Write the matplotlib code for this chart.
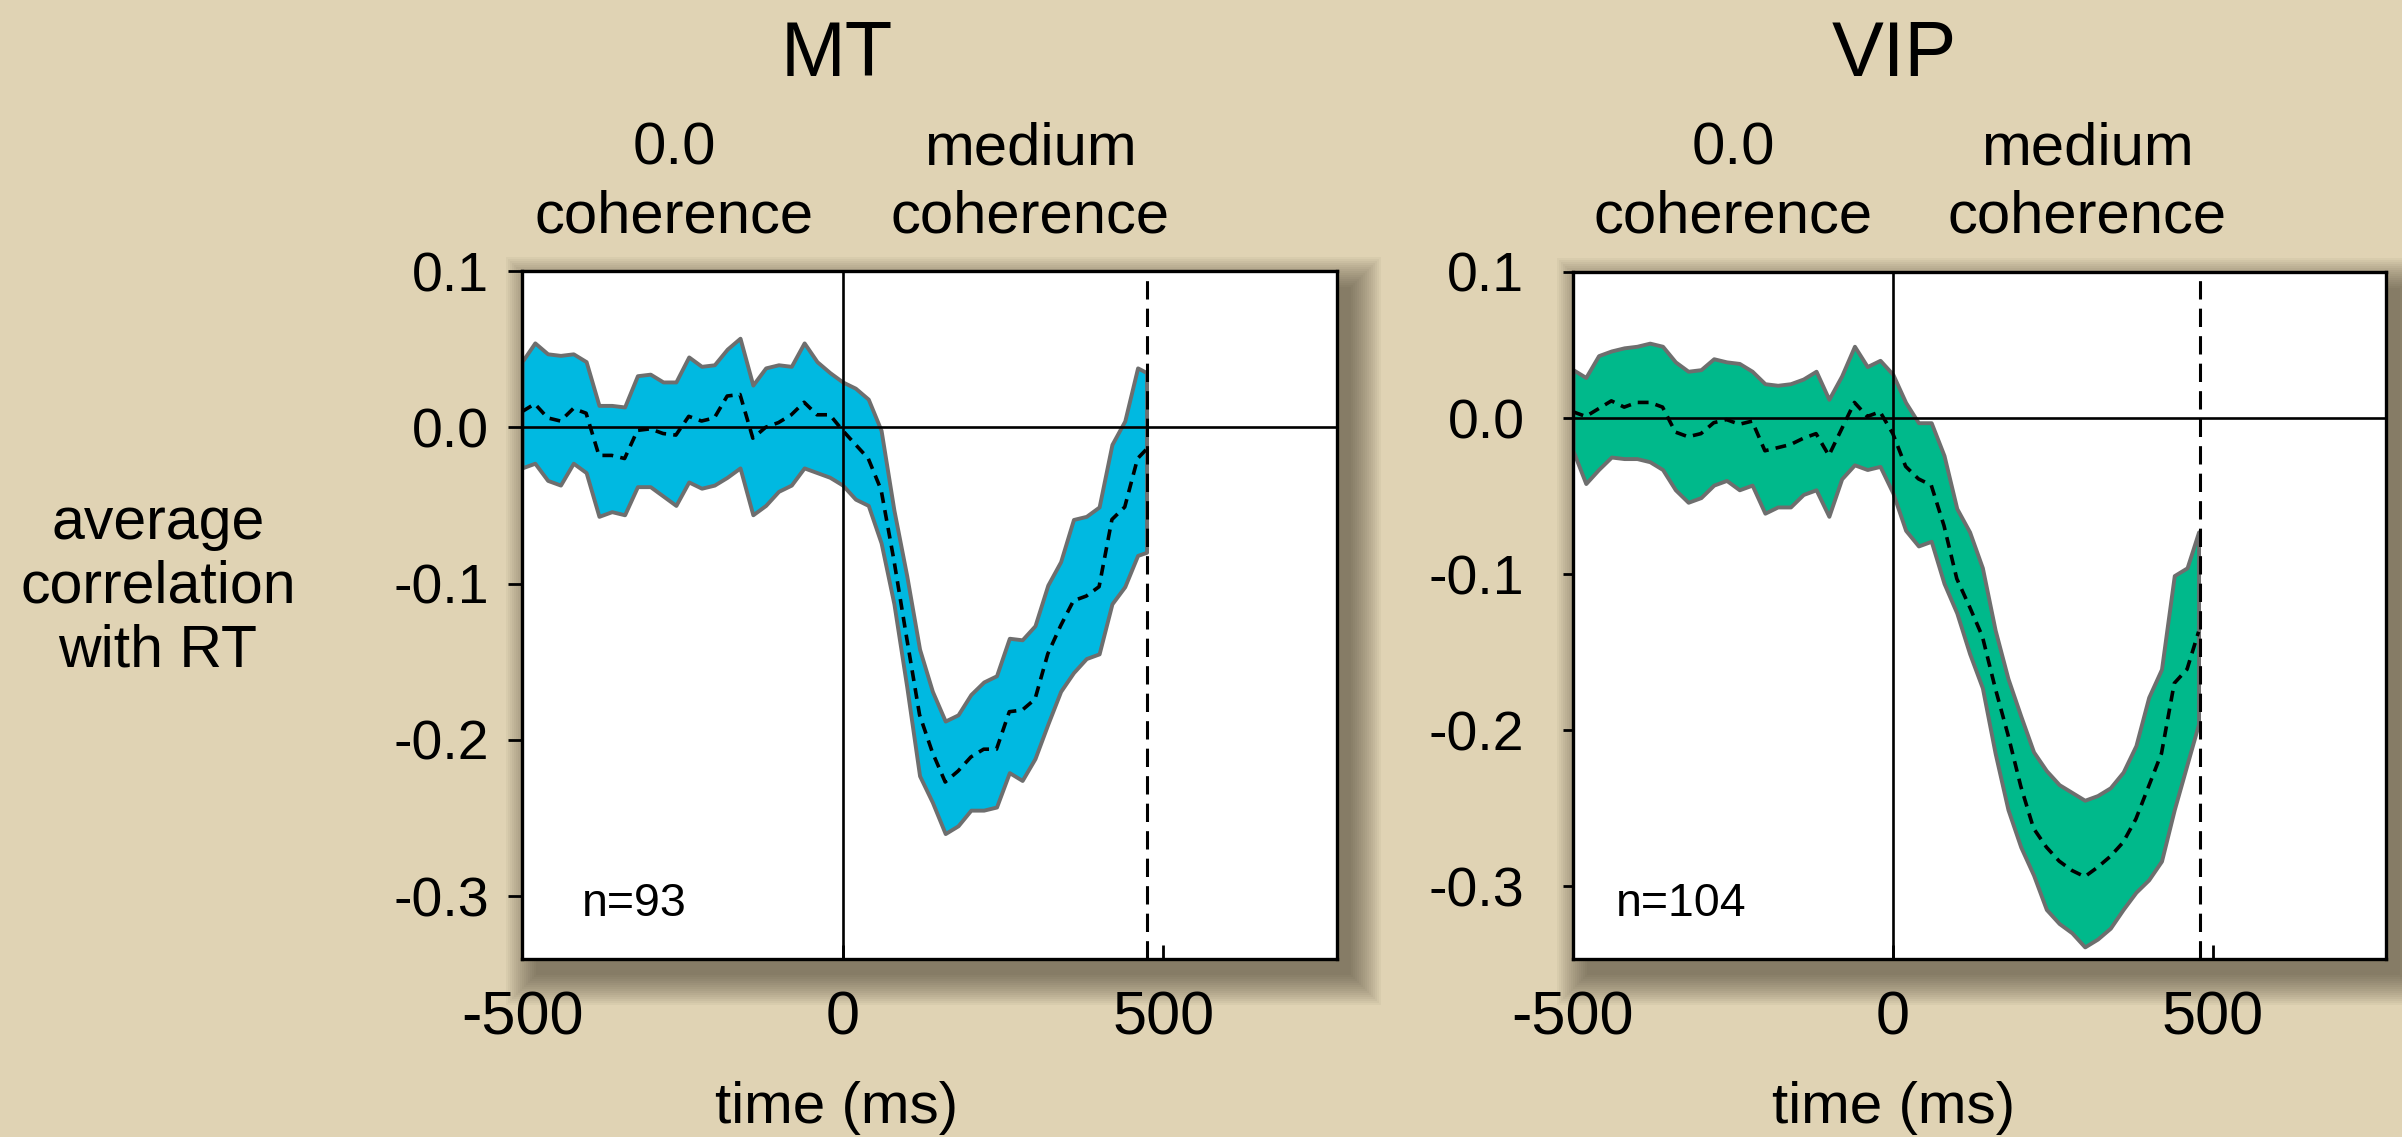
"""MT vs VIP: average correlation of firing with RT, aligned to motion onset."""
import matplotlib
matplotlib.use("Agg")
import matplotlib.pyplot as plt
from matplotlib.patches import Rectangle

plt.rcParams["font.family"] = ["Liberation Sans", "DejaVu Sans"]

BG = "#e0d3b4"
EDGE = "#6e6e6e"
MT_FILL = "#00b9e1"
VIP_FILL = "#00b98b"

# time grid (ms), 20 ms bins, last bin ends at the RT-aligned cut
GRID = list(range(-500, 461, 20))
mt_time = GRID + [474]
vip_time = GRID + [478]

mt_upper = [0.042, 0.054, 0.047, 0.046, 0.047, 0.042, 0.014, 0.014, 0.013, 0.033,
            0.034, 0.029, 0.029, 0.045, 0.039, 0.040, 0.050, 0.057, 0.027, 0.038,
            0.040, 0.039, 0.054, 0.042, 0.035, 0.029, 0.025, 0.018, -0.002, -0.053,
            -0.095, -0.142, -0.169, -0.188, -0.184, -0.171, -0.163, -0.159, -0.135, -0.136,
            -0.127, -0.101, -0.086, -0.059, -0.057, -0.051, -0.011, 0.004, 0.038, 0.035]
mt_lower = [-0.026, -0.023, -0.034, -0.037, -0.023, -0.029, -0.057, -0.054, -0.056, -0.038,
            -0.038, -0.044, -0.050, -0.035, -0.039, -0.037, -0.032, -0.026, -0.056, -0.050,
            -0.041, -0.037, -0.026, -0.029, -0.032, -0.037, -0.046, -0.050, -0.074, -0.113,
            -0.166, -0.223, -0.240, -0.260, -0.255, -0.245, -0.245, -0.243, -0.221, -0.226,
            -0.212, -0.190, -0.169, -0.157, -0.148, -0.145, -0.113, -0.102, -0.082, -0.080]
mt_mean = [0.010, 0.015, 0.006, 0.004, 0.012, 0.009, -0.018, -0.018, -0.020, -0.002,
           -0.001, -0.004, -0.005, 0.007, 0.004, 0.006, 0.020, 0.021, -0.007, 0.000,
           0.003, 0.008, 0.016, 0.008, 0.008, -0.002, -0.011, -0.020, -0.040, -0.085,
           -0.135, -0.184, -0.208, -0.227, -0.220, -0.211, -0.206, -0.206, -0.182, -0.181,
           -0.174, -0.145, -0.127, -0.111, -0.108, -0.102, -0.059, -0.051, -0.020, -0.014]

vip_upper = [0.031, 0.026, 0.040, 0.043, 0.045, 0.046, 0.048, 0.046, 0.036, 0.030,
             0.031, 0.038, 0.036, 0.035, 0.030, 0.022, 0.021, 0.022, 0.025, 0.030,
             0.012, 0.027, 0.046, 0.033, 0.037, 0.028, 0.010, -0.003, -0.003, -0.024,
             -0.058, -0.073, -0.096, -0.136, -0.167, -0.191, -0.214, -0.226, -0.235, -0.240,
             -0.245, -0.242, -0.237, -0.227, -0.210, -0.179, -0.161, -0.101, -0.096, -0.073]
vip_lower = [-0.021, -0.042, -0.033, -0.025, -0.026, -0.026, -0.028, -0.033, -0.046, -0.054,
             -0.051, -0.043, -0.040, -0.046, -0.043, -0.061, -0.057, -0.057, -0.049, -0.046,
             -0.063, -0.039, -0.030, -0.033, -0.031, -0.048, -0.072, -0.082, -0.079, -0.106,
             -0.125, -0.151, -0.173, -0.215, -0.251, -0.275, -0.293, -0.315, -0.324, -0.330,
             -0.339, -0.334, -0.327, -0.315, -0.304, -0.296, -0.284, -0.251, -0.222, -0.196]
vip_mean = [0.004, 0.001, 0.006, 0.011, 0.007, 0.010, 0.010, 0.007, -0.009, -0.012,
            -0.010, -0.003, -0.001, -0.004, -0.002, -0.021, -0.019, -0.017, -0.013, -0.010,
            -0.024, -0.007, 0.010, 0.001, 0.004, -0.010, -0.031, -0.039, -0.043, -0.069,
            -0.103, -0.121, -0.140, -0.173, -0.203, -0.236, -0.263, -0.275, -0.284, -0.290,
            -0.294, -0.288, -0.281, -0.272, -0.257, -0.236, -0.215, -0.170, -0.161, -0.137]

X_TICKS = [-500, 0, 500]
X_TICK_LABELS = ["-500", "0", "500"]
Y_TICK_LABELS = ["0.1", "0.0", "-0.1", "-0.2", "-0.3"]

W, H = 2402, 1137
fig = plt.figure(figsize=(W / 100, H / 100), dpi=100, facecolor=BG)


def px_rect(left, top, right, bottom):
    return [left / W, 1 - bottom / H, (right - left) / W, (bottom - top) / H]


def shadow(left, top, right, bottom):
    # soft drop shadow down/right of the panel, stacked translucent boxes
    for i in range(16):
        g = i * 2.0
        fig.patches.append(Rectangle(
            ((left + 14 - g) / W, 1 - (bottom + 16 + g) / H),
            (right - left + 2 * g) / W, (bottom - top + 2 * g) / H,
            transform=fig.transFigure, facecolor="#3a3226", alpha=0.045,
            edgecolor="none", zorder=-5))


def panel(rect_px, time, upper, lower, mean, fill, ylim, yticks, rt_line,
          n_label, n_pos, ypad, ylen):
    shadow(*rect_px)
    ax = fig.add_axes(px_rect(*rect_px))
    ax.set_zorder(2)
    ax.set_facecolor("white")
    ax.fill_between(time, lower, upper, facecolor=fill, edgecolor=EDGE,
                    linewidth=2.8, zorder=2)
    ax.axhline(0, color="black", lw=1.9, zorder=3)
    ax.axvline(0, color="black", lw=1.9, zorder=3)
    ax.axvline(rt_line, color="black", lw=2.2, ls=(0, (6, 3)), zorder=4)
    ax.plot(time, mean, color="black", lw=2.6, ls=(0, (3, 2)), zorder=5)
    ax.set_xlim(-500, 771)
    ax.set_ylim(*ylim)
    ax.set_xticks(X_TICKS, X_TICK_LABELS)
    ax.set_yticks(yticks, Y_TICK_LABELS)
    ax.tick_params(axis="x", direction="in", length=10, width=2, pad=23,
                   labelsize=44)
    ax.tick_params(axis="y", direction="out", length=ylen, width=2, pad=ypad,
                   labelsize=40)
    for s in ax.spines.values():
        s.set_linewidth(2.4)
        s.set_zorder(6)
    ax.text(n_pos[0], n_pos[1], n_label, transform=ax.transAxes,
            fontsize=33.5, va="center", ha="left")
    return ax


panel((522, 271, 1337, 958.6), mt_time, mt_upper, mt_lower, mt_mean,
      MT_FILL, (-0.340, 0.1), [0.1, 0.0, -0.1, -0.2, -0.3], 474,
      "n=93", (0.074, 0.079), 14, 10)
panel((1573, 272, 2386, 958.6), vip_time, vip_upper, vip_lower, vip_mean,
      VIP_FILL, (-0.3465, 0.0936), [0.0936, 0.0, -0.1, -0.2, -0.3], 480,
      "n=104", (0.053, 0.079), 28, 7)

# titles and condition labels
for x, name in [(837, "MT"), (1894, "VIP")]:
    fig.text(x / W, 1 - 55 / H, name, fontsize=56, ha="center", va="center")
    fig.text(x / W, 1 - 1108 / H, "time (ms)", fontsize=42, ha="center",
             va="center")
for x, lab in [(674, "0.0\ncoherence"), (1030, "medium\ncoherence"),
               (1733, "0.0\ncoherence"), (2087, "medium\ncoherence")]:
    fig.text(x / W, 1 - 183 / H, lab, fontsize=43, ha="center", va="center",
             linespacing=1.3)

fig.text(158 / W, 1 - 587 / H, "average\ncorrelation\nwith RT", fontsize=42.5,
         ha="center", va="center", linespacing=1.2)

fig.savefig("out.png", dpi=100, facecolor=BG)
